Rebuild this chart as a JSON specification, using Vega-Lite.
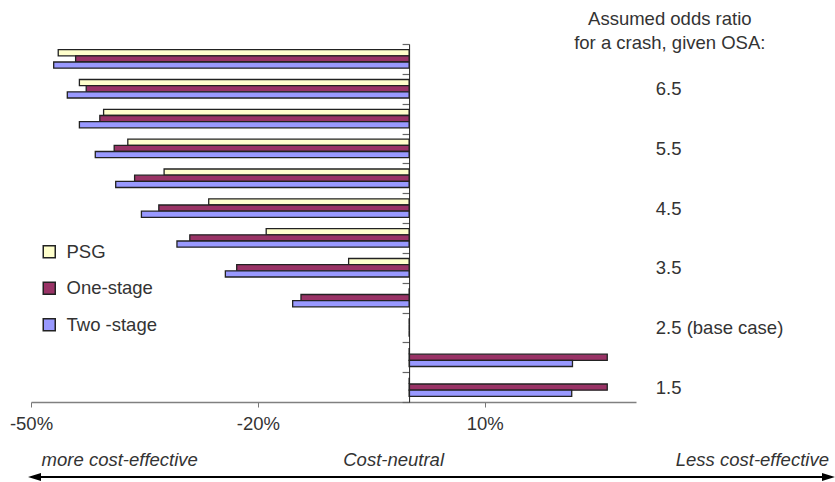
{
  "$schema": "https://vega.github.io/schema/vega-lite/v6.json",
  "autosize": "none",
  "padding": {"left": 31, "top": 44, "right": 804, "bottom": 438},
  "spacing": 58.3,
  "bounds": "flush",
  "config": {"view": {"stroke": null}, "font": "Liberation Sans"},
  "datasets": {
    "bars": [
      {"odds": "7.0", "series": "PSG", "change": -46.4},
      {"odds": "7.0", "series": "One-stage", "change": -44.1},
      {"odds": "7.0", "series": "Two -stage", "change": -47.0},
      {"odds": "6.5", "series": "PSG", "change": -43.6},
      {"odds": "6.5", "series": "One-stage", "change": -42.7},
      {"odds": "6.5", "series": "Two -stage", "change": -45.2},
      {"odds": "6.0", "series": "PSG", "change": -40.4},
      {"odds": "6.0", "series": "One-stage", "change": -40.9},
      {"odds": "6.0", "series": "Two -stage", "change": -43.6},
      {"odds": "5.5", "series": "PSG", "change": -37.2},
      {"odds": "5.5", "series": "One-stage", "change": -39.0},
      {"odds": "5.5", "series": "Two -stage", "change": -41.5},
      {"odds": "5.0", "series": "PSG", "change": -32.4},
      {"odds": "5.0", "series": "One-stage", "change": -36.3},
      {"odds": "5.0", "series": "Two -stage", "change": -38.8},
      {"odds": "4.5", "series": "PSG", "change": -26.5},
      {"odds": "4.5", "series": "One-stage", "change": -33.1},
      {"odds": "4.5", "series": "Two -stage", "change": -35.4},
      {"odds": "4.0", "series": "PSG", "change": -18.9},
      {"odds": "4.0", "series": "One-stage", "change": -29.0},
      {"odds": "4.0", "series": "Two -stage", "change": -30.7},
      {"odds": "3.5", "series": "PSG", "change": -8.0},
      {"odds": "3.5", "series": "One-stage", "change": -22.8},
      {"odds": "3.5", "series": "Two -stage", "change": -24.3},
      {"odds": "3.0", "series": "PSG", "change": 0},
      {"odds": "3.0", "series": "One-stage", "change": -14.3},
      {"odds": "3.0", "series": "Two -stage", "change": -15.4},
      {"odds": "2.5", "series": "PSG", "change": 0},
      {"odds": "2.5", "series": "One-stage", "change": 0},
      {"odds": "2.5", "series": "Two -stage", "change": 0},
      {"odds": "2.0", "series": "PSG", "change": 0},
      {"odds": "2.0", "series": "One-stage", "change": 26.2},
      {"odds": "2.0", "series": "Two -stage", "change": 21.6},
      {"odds": "1.5", "series": "PSG", "change": 0},
      {"odds": "1.5", "series": "One-stage", "change": 26.2},
      {"odds": "1.5", "series": "Two -stage", "change": 21.5}
    ],
    "notes": [
      {"label": "more cost-effective", "pos": -48.6, "row": "label"},
      {"label": "Cost-neutral", "pos": -2.1, "row": "label"},
      {"label": "Less cost-effective", "pos": 55.4, "row": "label"}
    ],
    "arrow": [{"row": "arrow", "from": -50.0, "to": 55.8}],
    "heads": [
      {"row": "arrow", "pos": -49.54, "dir": "left"},
      {"row": "arrow", "pos": 55.34, "dir": "right"}
    ]
  },
  "vconcat": [
    {
      "width": 605,
      "height": 358,
      "data": {"name": "bars"},
      "mark": {"type": "bar", "stroke": "#222", "strokeWidth": 1.3},
      "encoding": {
        "x": {
          "field": "change", "type": "quantitative",
          "scale": {"domain": [-50, 30], "nice": false, "zero": false},
          "axis": {
            "values": [-50, -20, 10], "labelExpr": "datum.value + '%'", "title": null, "grid": false,
            "tickSize": 5, "tickColor": "#777", "domainColor": "#808080", "domainWidth": 1.5,
            "labelFontSize": 18.5, "labelColor": "#333", "labelPadding": 7, "labelFont": "Liberation Sans",
            "labelFlush": false, "labelOverlap": false
          }
        },
        "y": {
          "field": "odds", "type": "nominal",
          "scale": {"domain": ["7.0", "6.5", "6.0", "5.5", "5.0", "4.5", "4.0", "3.5", "3.0", "2.5", "2.0", "1.5"], "paddingInner": 0, "paddingOuter": 0},
          "axis": {
            "orient": "left", "offset": -378.1, "tickBand": "extent", "tickSize": 7, "tickColor": "#666", "tickWidth": 1.2,
            "domainColor": "#222", "domainWidth": 1, "labelAlign": "left", "labelBaseline": "middle",
            "labelPadding": -253.2, "labelFontSize": 18.5, "labelColor": "#333", "labelFont": "Liberation Sans",
            "labelOverlap": false, "zindex": 1,
            "labelExpr": "indexof(['6.5','5.5','4.5','3.5','1.5'], datum.value) >= 0 ? datum.value : (datum.value == '2.5' ? '2.5 (base case)' : '')",
            "title": ["Assumed odds ratio", "for a crash, given OSA:"],
            "titleAngle": 0, "titleAlign": "center", "titleBaseline": "alphabetic",
            "titleX": 260.2, "titleY": -19.5, "titleFontSize": 18.5, "titleFontWeight": "normal",
            "titleColor": "#333", "titleLineHeight": 24, "titleFont": "Liberation Sans"
          }
        },
        "yOffset": {
          "field": "series", "type": "nominal",
          "scale": {"domain": ["PSG", "One-stage", "Two -stage"], "paddingInner": 0, "paddingOuter": 0.92}
        },
        "color": {
          "field": "series", "type": "nominal",
          "scale": {"domain": ["PSG", "One-stage", "Two -stage"], "range": ["#FFFFCC", "#993366", "#9999FF"]},
          "legend": {
            "orient": "none", "legendX": 9, "legendY": 198.5, "title": null, "direction": "vertical",
            "symbolType": "square", "symbolSize": 144, "symbolStrokeColor": "#222", "symbolStrokeWidth": 1.5,
            "symbolOpacity": 1, "labelFontSize": 18.5, "labelColor": "#333", "labelFont": "Liberation Sans",
            "rowPadding": 17.5, "labelOffset": 8, "padding": 0
          }
        }
      }
    },
    {
      "width": 804,
      "height": 16.7,
      "layer": [
        {
          "data": {"name": "arrow"},
          "mark": {"type": "rule", "color": "#000", "strokeWidth": 2},
          "encoding": {
            "x": {"field": "from", "type": "quantitative", "scale": {"domain": [-50, 56.2], "nice": false, "zero": false}, "axis": null},
            "x2": {"field": "to"},
            "y": {"field": "row", "type": "nominal", "scale": {"type": "point", "domain": ["label", "arrow"], "padding": 0}, "axis": null}
          }
        },
        {
          "data": {"name": "heads"},
          "mark": {"type": "point", "filled": true, "color": "#000", "opacity": 1, "size": 169, "strokeWidth": 0},
          "encoding": {
            "x": {"field": "pos", "type": "quantitative"},
            "y": {"field": "row", "type": "nominal"},
            "shape": {"field": "dir", "type": "nominal", "scale": {"domain": ["left", "right"], "range": ["M-1,0L1,-0.62L1,0.62Z", "M1,0L-1,-0.62L-1,0.62Z"]}, "legend": null}
          }
        },
        {
          "data": {"name": "notes"},
          "transform": [{"filter": "datum.label == 'more cost-effective'"}],
          "mark": {"type": "text", "align": "left", "baseline": "middle", "fontStyle": "italic", "fontSize": 18.5, "color": "#333", "font": "Liberation Sans"},
          "encoding": {"x": {"field": "pos", "type": "quantitative"}, "y": {"field": "row", "type": "nominal"}, "text": {"field": "label"}}
        },
        {
          "data": {"name": "notes"},
          "transform": [{"filter": "datum.label == 'Cost-neutral'"}],
          "mark": {"type": "text", "align": "center", "baseline": "middle", "fontStyle": "italic", "fontSize": 18.5, "color": "#333", "font": "Liberation Sans"},
          "encoding": {"x": {"field": "pos", "type": "quantitative"}, "y": {"field": "row", "type": "nominal"}, "text": {"field": "label"}}
        },
        {
          "data": {"name": "notes"},
          "transform": [{"filter": "datum.label == 'Less cost-effective'"}],
          "mark": {"type": "text", "align": "right", "baseline": "middle", "fontStyle": "italic", "fontSize": 18.5, "color": "#333", "font": "Liberation Sans"},
          "encoding": {"x": {"field": "pos", "type": "quantitative"}, "y": {"field": "row", "type": "nominal"}, "text": {"field": "label"}}
        }
      ]
    }
  ]
}
